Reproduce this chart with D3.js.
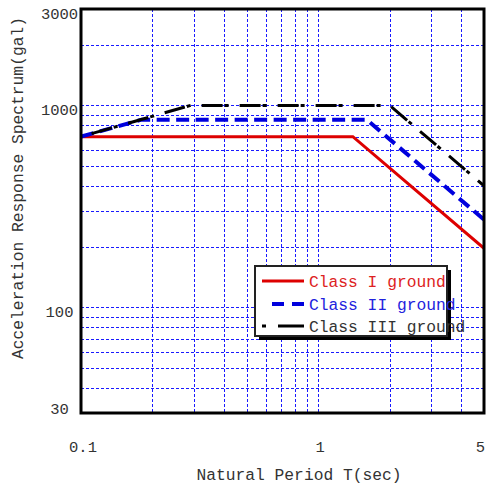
<!DOCTYPE html>
<html>
<head>
<meta charset="utf-8">
<script src="https://cdn.jsdelivr.net/npm/d3@7"></script>
<style>
  html, body { margin: 0; padding: 0; background: #fff; }
  svg { display: block; }
  text { font-family: "Liberation Mono", "DejaVu Sans Mono", monospace; }
</style>
</head>
<body>
<script>
// ---- data ----
const xTicks = [0.1, 1, 5];
const xTickLabels = ["0.1", "1", "5"];
const yTicks = [30, 100, 1000, 3000];
const yTickLabels = ["30", "100", "1000", "3000"];
const xGrid = [0.2, 0.3, 0.4, 0.5, 0.6, 0.7, 0.8, 0.9, 1, 2, 3, 4];
const yGrid = [40, 50, 60, 70, 80, 90, 100, 200, 300, 400, 500, 600, 700, 800, 900, 1000, 2000];

const seriesNames = ["Class I ground", "Class II ground", "Class III ground"];
const classI_T = [0.1, 1.4, 5];
const classI_S = [700, 700, 196];
const classII_T = [0.1, 0.18, 1.6, 5];
const classII_S = [700, 850, 850, 272];
const classIII_T = [0.1, 0.29, 2.0, 5];
const classIII_S = [700, 1000, 1000, 400];

// ---- layout ----
const W = 486, H = 488;
const X0 = 81, X1 = 484, Y0 = 9, Y1 = 413;

const svg = d3.select("body").append("svg").attr("width", W).attr("height", H);

const x = d3.scaleLog().domain([0.1, 5]).range([X0, X1]);
const y = d3.scaleLog().domain([30, 3000]).range([Y1, Y0]);

// grid
const grid = svg.append("g").attr("stroke", "#1a1aff").attr("stroke-width", 1).attr("stroke-dasharray", "3,2");
grid.selectAll("line.gx").data(xGrid).join("line").attr("class", "gx")
  .attr("x1", d => Math.round(x(d)) + 0.5).attr("x2", d => Math.round(x(d)) + 0.5)
  .attr("y1", Y0).attr("y2", Y1);
grid.selectAll("line.gy").data(yGrid).join("line").attr("class", "gy")
  .attr("y1", d => Math.round(y(d)) + 0.5).attr("y2", d => Math.round(y(d)) + 0.5)
  .attr("x1", X0).attr("x2", X1);

// clip
svg.append("clipPath").attr("id", "clip").append("rect")
  .attr("x", X0).attr("y", Y0).attr("width", X1 - X0).attr("height", Y1 - Y0);

const line = d3.line().x(d => x(d[0])).y(d => y(d[1]));
const series = [
  { T: classI_T, S: classI_S, color: "#dd0000", width: 3, dash: null, offset: 0 },
  { T: classII_T, S: classII_S, color: "#0000dd", width: 4, dash: "13,6.5", offset: 0 },
  { T: classIII_T, S: classIII_S, color: "#000000", width: 3, dash: "21,2,4,11", offset: 27 }
];
const plot = svg.append("g").attr("clip-path", "url(#clip)");
series.forEach(s => {
  plot.append("path")
    .attr("d", line(s.T.map((t, i) => [t, s.S[i]])))
    .attr("fill", "none")
    .attr("stroke", s.color)
    .attr("stroke-width", s.width)
    .attr("stroke-dasharray", s.dash)
    .attr("stroke-dashoffset", s.offset);
});

// frame
svg.append("rect").attr("x", X0).attr("y", Y0).attr("width", X1 - X0).attr("height", Y1 - Y0)
  .attr("fill", "none").attr("stroke", "#000").attr("stroke-width", 3);

// tick labels
svg.append("g").selectAll("text").data(yTicks).join("text")
  .attr("x", 59.5)
  .attr("y", d => Math.min(y(d) + 4.5, 409))
  .attr("dy", "0.35em")
  .attr("text-anchor", "middle")
  .attr("font-size", 15.5)
  .attr("fill", "#333")
  .text((d, i) => yTickLabels[i]);

svg.append("g").selectAll("text").data(xTicks).join("text")
  .attr("x", d => Math.min(x(d) + 2, 480.5))
  .attr("y", 446.5)
  .attr("dy", "0.35em")
  .attr("text-anchor", "middle")
  .attr("font-size", 15.5)
  .attr("fill", "#333")
  .text((d, i) => xTickLabels[i]);

// axis titles
svg.append("text").attr("x", 299).attr("y", 474).attr("dy", "0.35em")
  .attr("text-anchor", "middle").attr("font-size", 16.3).attr("fill", "#333")
  .text("Natural Period T(sec)");
svg.append("text").attr("transform", "translate(17,188) rotate(-90)").attr("dy", "0.35em")
  .attr("text-anchor", "middle").attr("font-size", 16.3).attr("fill", "#333")
  .text("Acceleration Response Spectrum(gal)");

// legend
const LX = 255, LY = 266, LW = 192, LH = 70;
const leg = svg.append("g");
leg.append("rect").attr("x", LX + 4).attr("y", LY + 4).attr("width", LW).attr("height", LH).attr("fill", "#000");
leg.append("rect").attr("x", LX).attr("y", LY).attr("width", LW).attr("height", LH)
  .attr("fill", "#fff").attr("stroke", "#222").attr("stroke-width", 2);
const rowsY = [281, 304, 326];
const legColors = ["#dd2222", "#2222dd", "#333"];
series.forEach((s, i) => {
  leg.append("line").attr("x1", 262).attr("x2", 304).attr("y1", rowsY[i]).attr("y2", rowsY[i])
    .attr("stroke", s.color).attr("stroke-width", s.width)
    .attr("stroke-dasharray", i === 1 ? "0,10,12,8,12" : (i === 2 ? "4,12,26" : null));
  leg.append("text").attr("x", 309).attr("y", rowsY[i]).attr("dy", "0.35em")
    .attr("font-size", 16.3).attr("fill", legColors[i]).text(seriesNames[i]);
});
</script>
</body>
</html>
